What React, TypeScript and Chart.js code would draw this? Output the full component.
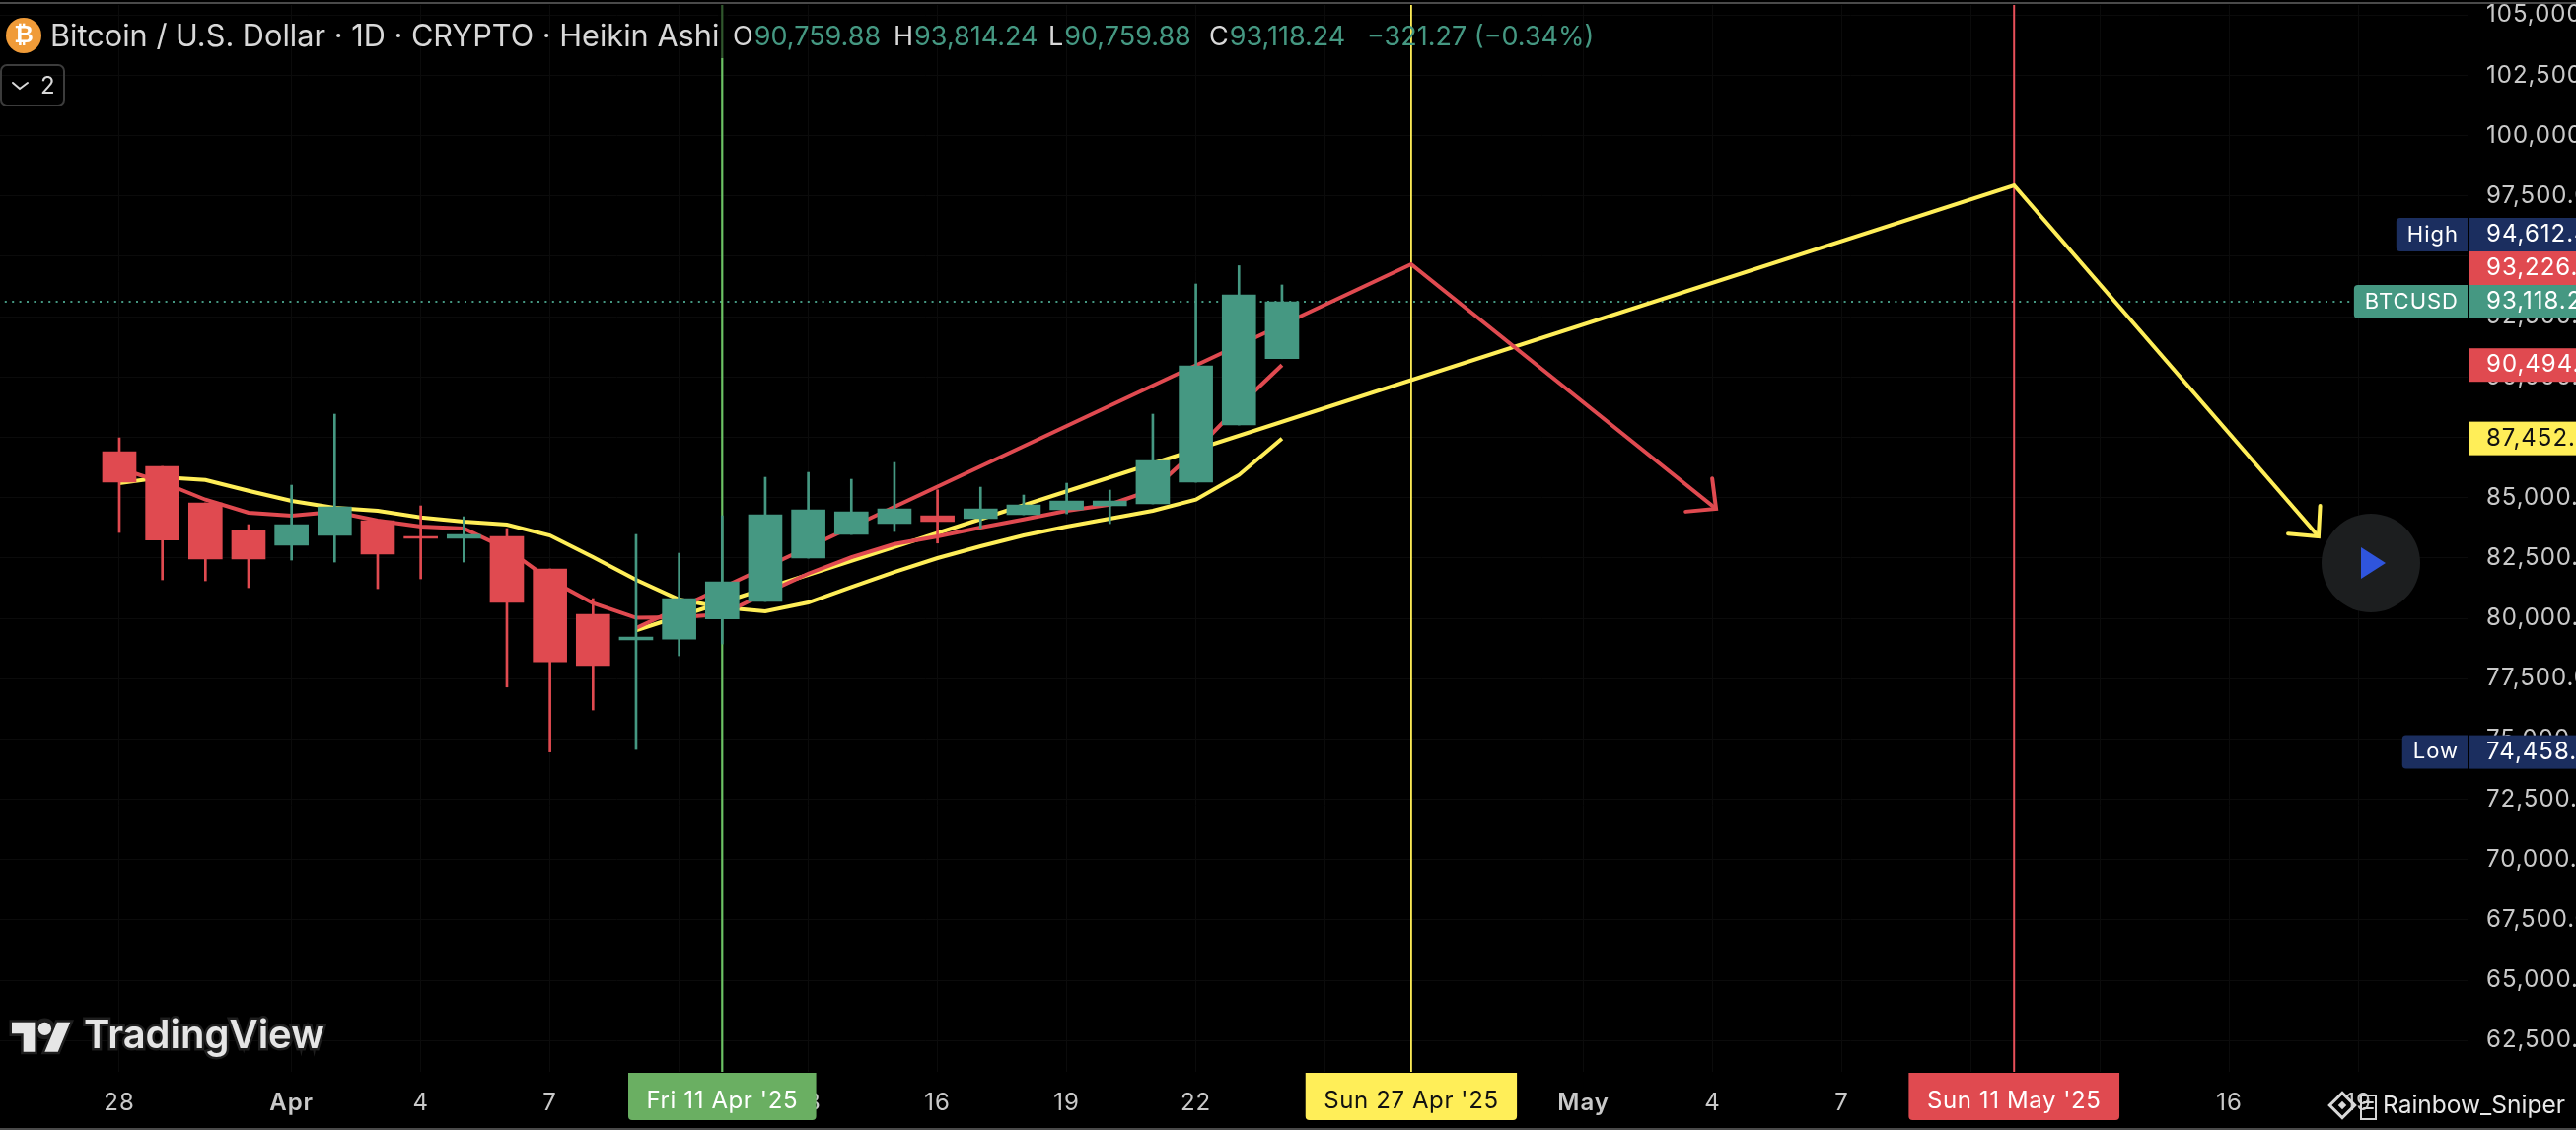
import React, { useEffect, useRef } from "react";
import { Chart, registerables } from "chart.js";

Chart.register(...registerables);

const candleDates = ["Mar 28","Mar 29","Mar 30","Mar 31","Apr 1","Apr 2","Apr 3","Apr 4","Apr 5","Apr 6","Apr 7","Apr 8","Apr 9","Apr 10","Apr 11","Apr 12","Apr 13","Apr 14","Apr 15","Apr 16","Apr 17","Apr 18","Apr 19","Apr 20","Apr 21","Apr 22","Apr 23","Apr 24"];
const opens = [86906,86293,84781,83636,83023,83432,84045,83391,83309,83391,82042,80162,79100,79140,79970,80694,82492,83473,83922,84249,84127,84290,84494,84658,84740,85639,88009,90759.88];
const closes = [85639,83240,82451,82451,83881,84617,82655,83309,83473,80653,78200,78037,79222,80816,81511,84290,84494,84413,84535,84004,84535,84699,84862,84862,86538,90461,93404,93118.24];
const highs = [87478,86293,84781,83881,85516,88459,84045,84658,84208,83718,82042,80816,83473,82696,84249,85843,86047,85761,86456,85324,85434,85107,85598,85312,88459,93854,94612,93814.24];
const lows = [83554,81593,81552,81266,82410,82328,81225,81634,82328,77150,74458,76198,74563,78446,78936,80694,82492,83473,83595,83117,83730,84290,84331,83922,84740,85639,88009,90759.88];

const fastMa = [86211,85639,84915,84372,84249,84413,84045,83800,83718,82872,81593,80624,80019,80040,80162,81033,81850,82533,83076,83391,83759,84098,84454,84711,85324,86959,88798,90494];
const slowMa = [85598,85843,85733,85283,84862,84576,84454,84180,84004,83881,83432,82533,81593,80775,80448,80285,80653,81294,81920,82492,82982,83432,83800,84127,84454,84915,85937,87452];

const redPathDays = [12, 30, 37.08];
const redPathPrices = [79590, 94671, 84535];
const yellowPathDays = [12, 44, 51.07];
const yellowPathPrices = [79500, 97941, 83391];

const markerDays = [14, 30, 44];
const markerLabels = ["Fri 11 Apr '25", "Sun 27 Apr '25", "Sun 11 May '25"];
const markerFills = ["#6AAF62", "#FFEE58", "#E04A50"];
const markerLines = ["#6CC264", "#FFEE58", "#E8505A"];
const markerWidths = [2.2, 1.8, 2];
const markerText = ["#ffffff", "#111111", "#ffffff"];

const tickDays = [0, 4, 7, 10, 13, 16, 19, 22, 25, 28, 34, 37, 40, 43, 46, 49, 52];
const tickLabels = ["28", "Apr", "4", "7", "10", "13", "16", "19", "22", "25", "May", "4", "7", "10", "13", "16", "19"];
const boldTicks = ["Apr", "May"];

const priceTicks = [105000,102500,100000,97500,95000,92500,90000,87500,85000,82500,80000,77500,75000,72500,70000,67500,65000,62500];
const priceTickLabels = ["105,000.00","102,500.00","100,000.00","97,500.00","95,000.00","92,500.00","90,000.00","87,500.00","85,000.00","82,500.00","80,000.00","77,500.00","75,000.00","72,500.00","70,000.00","67,500.00","65,000.00","62,500.00"];

const tagValues = [74458.41, 87452.97, 90494.48, 93118.24, 93226.52, 94612.43];
const tagTexts = ["74,458.41", "87,452.97", "90,494.48", "93,118.24", "93,226.52", "94,612.43"];
const tagNames = ["Low", "", "", "BTCUSD", "", "High"];
const tagFills = ["#1B2E5F", "#FFEE58", "#E04A50", "#459882", "#E04A50", "#1B2E5F"];
const tagInk = ["#ffffff", "#111111", "#ffffff", "#ffffff", "#ffffff", "#ffffff"];

const lastPrice = 93118.24;
const titleText = "Bitcoin / U.S. Dollar · 1D · CRYPTO · Heikin Ashi";
const ohlcLetters = ["O", "H", "L", "C"];
const ohlcValues = ["90,759.88", "93,814.24", "90,759.88", "93,118.24"];
const changeText = "−321.27 (−0.34%)";

const GREEN = "#459882";
const RED = "#E04A50";
const YELLOW = "#FFEE58";
const FONT = "Inter, 'Noto Sans', sans-serif";

const days = candleDates.map((_, i) => i);
const toXY = (xs: number[], ys: number[]) => xs.map((x, i) => ({ x, y: ys[i] }));
const candleColors = opens.map((o, i) => (closes[i] >= o ? GREEN : RED));

const arrowHead = (ctx: CanvasRenderingContext2D, x0: number, y0: number, x1: number, y1: number, color: string) => {
  const a = Math.atan2(y0 - y1, x0 - x1);
  const len = 31;
  const spread = (44 * Math.PI) / 180;
  ctx.strokeStyle = color;
  ctx.lineWidth = 4;
  ctx.lineCap = "round";
  ctx.beginPath();
  ctx.moveTo(x1 + Math.cos(a + spread) * len, y1 + Math.sin(a + spread) * len);
  ctx.lineTo(x1, y1);
  ctx.lineTo(x1 + Math.cos(a - spread) * len, y1 + Math.sin(a - spread) * len);
  ctx.stroke();
};

const roundBox = (ctx: CanvasRenderingContext2D, x: number, y: number, w: number, h: number, r: any) => {
  ctx.beginPath();
  ctx.roundRect(x, y, w, h, r);
};

const overlay = {
  id: "overlay",
  beforeDraw(chart: any) {
    (chart.ctx as any).letterSpacing = "1px";
  },
  afterDraw(chart: any) {
    const { ctx, scales, chartArea } = chart;
    const sx = scales.x;
    const sy = scales.y;
    ctx.save();

    // arrow heads
    const rn = redPathDays.length - 1;
    arrowHead(ctx, sx.getPixelForValue(redPathDays[rn - 1]), sy.getPixelForValue(redPathPrices[rn - 1]), sx.getPixelForValue(redPathDays[rn]), sy.getPixelForValue(redPathPrices[rn]), RED);
    const yn = yellowPathDays.length - 1;
    arrowHead(ctx, sx.getPixelForValue(yellowPathDays[yn - 1]), sy.getPixelForValue(yellowPathPrices[yn - 1]), sx.getPixelForValue(yellowPathDays[yn]), sy.getPixelForValue(yellowPathPrices[yn]), YELLOW);

    // legend veil over the green marker
    ctx.fillStyle = "rgba(0,0,0,0.55)";
    ctx.fillRect(728, chartArea.top, 10, 54);

    // frame strips
    ctx.fillStyle = "#4a4a4a";
    ctx.fillRect(0, 2, 2612, 2);
    ctx.fillRect(0, 1144, 2612, 2);

    // date markers
    ctx.textBaseline = "middle";
    ctx.textAlign = "center";
    (ctx as any).letterSpacing = "0.6px";
    ctx.font = `400 24px ${FONT}`;
    markerDays.forEach((d, i) => {
      const x = sx.getPixelForValue(d);
      const w = ctx.measureText(markerLabels[i]).width + 37;
      ctx.fillStyle = markerFills[i];
      roundBox(ctx, x - w / 2, chartArea.bottom + 1, w, 48, [0, 0, 4, 4]);
      ctx.fill();
      ctx.fillStyle = markerText[i];
      ctx.fillText(markerLabels[i], x, 1117);
    });
    (ctx as any).letterSpacing = "1px";

    // price tags, pushed up when they would overlap
    let prevTop = Infinity;
    tagValues.forEach((v, i) => {
      let y = sy.getPixelForValue(v);
      if (y + 17 > prevTop) y = prevTop - 17;
      prevTop = y - 17;
      ctx.fillStyle = tagFills[i];
      ctx.fillRect(chartArea.right + 2, y - 17, 2612 - chartArea.right - 2, 34);
      ctx.fillStyle = tagInk[i];
      ctx.textAlign = "left";
      ctx.font = `400 24px ${FONT}`;
      ctx.fillText(tagTexts[i], chartArea.right + 19, y);
      if (tagNames[i]) {
        ctx.font = `400 22px ${FONT}`;
        const tw = ctx.measureText(tagNames[i]).width + 20;
        ctx.fillStyle = tagFills[i];
        roundBox(ctx, chartArea.right - tw, y - 17, tw, 34, [4, 0, 0, 4]);
        ctx.fill();
        ctx.fillStyle = tagInk[i];
        ctx.textAlign = "right";
        ctx.fillText(tagNames[i], chartArea.right - 9, y);
      }
    });

    (ctx as any).letterSpacing = "0px";

    // header
    ctx.textAlign = "center";
    ctx.fillStyle = "#F09B38";
    ctx.beginPath();
    ctx.arc(24, 36, 18, 0, Math.PI * 2);
    ctx.fill();
    ctx.fillStyle = "#ffffff";
    ctx.font = `700 24px 'DejaVu Sans', sans-serif`;
    ctx.fillText("₿", 24, 37);

    ctx.textAlign = "left";
    ctx.font = `400 30.7px ${FONT}`;
    ctx.fillStyle = "#D8D8D8";
    ctx.fillText(titleText, 51, 38);
    ctx.font = `400 27px ${FONT}`;
    const letterX = [743, 906, 1063, 1226];
    ohlcLetters.forEach((l, i) => {
      ctx.fillStyle = "#D8D8D8";
      ctx.fillText(l, letterX[i], 38);
      const lw = ctx.measureText(l).width;
      ctx.fillStyle = GREEN;
      ctx.fillText(ohlcValues[i], letterX[i] + lw + 1, 38);
    });
    ctx.fillStyle = GREEN;
    ctx.fillText(changeText, 1386, 38);

    // collapse button
    ctx.strokeStyle = "#3c3c3c";
    ctx.lineWidth = 2;
    roundBox(ctx, 1, 66, 64, 41, 6);
    ctx.stroke();
    ctx.strokeStyle = "#D8D8D8";
    ctx.lineWidth = 2;
    ctx.beginPath();
    ctx.moveTo(13, 84);
    ctx.lineTo(20, 90);
    ctx.lineTo(28, 84);
    ctx.stroke();
    ctx.fillStyle = "#D8D8D8";
    ctx.font = `400 24px ${FONT}`;
    ctx.fillText("2", 41, 88);

    // play button
    ctx.fillStyle = "#1C1E1F";
    ctx.beginPath();
    ctx.arc(2404, 571, 50, 0, Math.PI * 2);
    ctx.fill();
    ctx.fillStyle = "#2F55DD";
    ctx.beginPath();
    ctx.moveTo(2394, 555);
    ctx.lineTo(2419, 571);
    ctx.lineTo(2394, 587);
    ctx.closePath();
    ctx.fill();

    // logo
    ctx.save();
    ctx.translate(12, 1030);
    ctx.scale(1.67, 1.67);
    const p = new Path2D("M14 22H7V11H0V4h14v18zM28 22h-8l7.5-18h8L28 22z");
    ctx.strokeStyle = "#1e1e1e";
    ctx.lineWidth = 3;
    ctx.stroke(p);
    ctx.beginPath();
    ctx.arc(20, 8, 5, 0, Math.PI * 2);
    ctx.stroke();
    ctx.fillStyle = "#E6E6E6";
    ctx.fill(p);
    ctx.beginPath();
    ctx.arc(20, 8, 4, 0, Math.PI * 2);
    ctx.fill();
    ctx.restore();
    ctx.font = `600 40px ${FONT}`;
    ctx.textAlign = "left";
    ctx.lineWidth = 5;
    ctx.strokeStyle = "#1e1e1e";
    ctx.strokeText("TradingView", 85, 1051);
    ctx.fillStyle = "#E6E6E6";
    ctx.fillText("TradingView", 85, 1051);

    // watermark
    ctx.strokeStyle = "#D8D8D8";
    ctx.lineWidth = 3;
    ctx.save();
    ctx.translate(2375, 1121);
    ctx.rotate(Math.PI / 4);
    ctx.strokeRect(-9, -9, 18, 18);
    ctx.fillStyle = "#D8D8D8";
    ctx.fillRect(-3, -3, 6, 6);
    ctx.restore();
    ctx.lineWidth = 2;
    ctx.strokeRect(2394, 1111, 15, 24);
    ctx.beginPath();
    ctx.moveTo(2397, 1118);
    ctx.lineTo(2406, 1118);
    ctx.moveTo(2397, 1124);
    ctx.lineTo(2406, 1124);
    ctx.stroke();
    ctx.fillStyle = "#E8E8E8";
    ctx.font = `400 24.5px ${FONT}`;
    ctx.fillText("Rainbow_Sniper", 2416, 1122);

    ctx.restore();
  },
};

export default function App() {
  const ref = useRef<HTMLCanvasElement>(null);
  useEffect(() => {
    const line = (label: string, xs: number[], ys: number[], color: string, order: number, width = 4, extra: any = {}) => ({
      type: "line",
      label,
      data: toXY(xs, ys),
      borderColor: color,
      backgroundColor: color,
      borderWidth: width,
      pointRadius: 0,
      tension: 0,
      order,
      ...extra,
    });
    const chart = new Chart(ref.current as HTMLCanvasElement, {
      type: "bar",
      data: {
        datasets: [
          {
            type: "bar",
            label: "Bodies",
            data: days.map((d, i) => ({ x: d, y: [opens[i], closes[i]] })),
            backgroundColor: candleColors,
            barThickness: 34,
            grouped: false,
            order: 1,
          },
          {
            type: "bar",
            label: "Wicks",
            data: days.map((d, i) => ({ x: d, y: [lows[i], highs[i]] })),
            backgroundColor: candleColors,
            barThickness: 2,
            grouped: false,
            order: 2,
          },
          line("Fast MA", days, fastMa, RED, 3),
          line("Slow MA", days, slowMa, YELLOW, 4),
          line("Red path", redPathDays, redPathPrices, RED, 3),
          line("Yellow path", yellowPathDays, yellowPathPrices, YELLOW, 4),
          line("Last price", [-3, 52.95], [lastPrice, lastPrice], GREEN, 6, 2, { borderDash: [2, 5.4] }),
          ...markerDays.map((d, i) =>
            line(markerLabels[i], [d, d], [61202, 105419], markerLines[i], 5, markerWidths[i]),
          ),
        ] as any,
      },
      options: {
        responsive: false,
        animation: false,
        devicePixelRatio: 1,
        layout: { padding: { top: 5, left: 0, right: 0, bottom: 0 } },
        plugins: { legend: { display: false }, tooltip: { enabled: false }, title: { display: false } },
        scales: {
          x: {
            type: "linear",
            offset: false,
            min: -2.771,
            max: 54.53,
            grid: { color: "#0b0b0b", lineWidth: 1, drawTicks: false, offset: false },
            border: { display: false },
            afterBuildTicks: (s: any) => {
              s.ticks = tickDays.map((value) => ({ value }));
            },
            afterFit: (s: any) => {
              s.height = 59;
            },
            ticks: {
              autoSkip: false,
              maxRotation: 0,
              minRotation: 0,
              padding: 17,
              color: "#C9C9C9",
              callback: (_: any, i: number) => tickLabels[i],
              font: (c: any) => ({
                family: FONT,
                size: 24,
                weight: boldTicks.includes(tickLabels[c.index]) ? "600" : "400",
              }),
            },
          },
          y: {
            type: "linear",
            position: "right",
            min: 61202,
            max: 105419,
            grid: { color: "#0b0b0b", lineWidth: 1, drawTicks: false },
            border: { display: false },
            afterBuildTicks: (s: any) => {
              s.ticks = priceTicks.map((value) => ({ value }));
            },
            afterFit: (s: any) => {
              s.width = 110;
              s.paddingTop = 0;
              s.paddingBottom = 0;
            },
            ticks: {
              autoSkip: false,
              padding: 19,
              color: "#C9C9C9",
              callback: (_: any, i: number) => priceTickLabels[i],
              font: { family: FONT, size: 24 },
            },
          },
        },
      } as any,
      plugins: [overlay],
    } as any);
    return () => chart.destroy();
  }, []);
  return (
    <div style={{ position: "fixed", left: 0, top: 0, width: 2612, height: 1146, background: "#000" }}>
      <canvas ref={ref} width={2612} height={1146} style={{ display: "block", width: 2612, height: 1146 }} />
    </div>
  );
}
